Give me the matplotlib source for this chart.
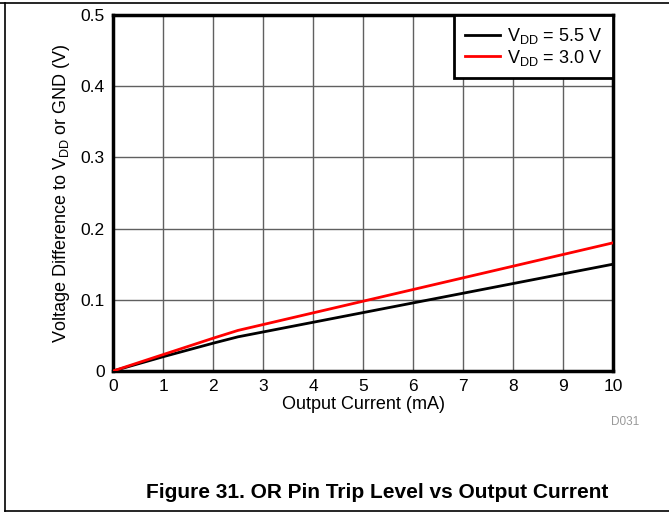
import matplotlib
matplotlib.use("Agg")
import matplotlib.pyplot as plt
from matplotlib.lines import Line2D

plt.rcParams['font.family'] = ['Liberation Sans', 'DejaVu Sans']

current_ma = [0, 1, 2, 2.5, 5, 7.5, 10]
vdd_55 = [0.0, 0.020, 0.039, 0.048, 0.082, 0.116, 0.150]
vdd_30 = [0.0, 0.023, 0.046, 0.057, 0.098, 0.139, 0.180]
x_ticks = [0, 1, 2, 3, 4, 5, 6, 7, 8, 9, 10]
y_ticks = [0, 0.1, 0.2, 0.3, 0.4, 0.5]
y_tick_labels = ['0', '0.1', '0.2', '0.3', '0.4', '0.5']

fig = plt.figure(figsize=(6.69, 5.14), dpi=100)
ax = fig.add_axes([113/669, 1-371/514, 500/669, 356/514])

ax.plot(current_ma, vdd_55, color='black', lw=2, label=r'V$_{\mathregular{DD}}$ = 5.5 V', zorder=3)
ax.plot(current_ma, vdd_30, color='#ff0000', lw=2, label=r'V$_{\mathregular{DD}}$ = 3.0 V', zorder=3)

ax.set_xlim(0, 10)
ax.set_ylim(0, 0.5)
ax.set_xticks(x_ticks)
ax.set_yticks(y_ticks)
ax.set_yticklabels(y_tick_labels)
ax.tick_params(length=0, labelsize=12.5, pad=6)
ax.grid(True, color='#606060', lw=1)
for s in ax.spines.values():
    s.set_linewidth(2.5)
    s.set_color('black')

ax.set_xlabel('Output Current (mA)', fontsize=13, labelpad=1)
ax.set_ylabel(r'Voltage Difference to V$_{\mathregular{DD}}$ or GND (V)', fontsize=13, labelpad=6)

leg = ax.legend(loc='upper right', fontsize=13, frameon=True, fancybox=False,
                edgecolor='black', framealpha=1, borderaxespad=0,
                handlelength=1.9, handletextpad=0.4, labelspacing=0.1,
                borderpad=0.6)
leg.get_frame().set_linewidth(2)

fig.text(625/669, 1-422/514, 'D031', color='#999999', fontsize=8.5, ha='center', va='center')
fig.text(377/669, 1-492/514, 'Figure 31. OR Pin Trip Level vs Output Current',
         fontsize=15, fontweight='bold', ha='center', va='center')

# page frame lines
fig.add_artist(Line2D([0, 1], [1-3/514, 1-3/514], color='black', lw=1.2, transform=fig.transFigure))
fig.add_artist(Line2D([5/669, 5/669], [1-3/514, 1-511/514], color='black', lw=1.2, transform=fig.transFigure))
fig.add_artist(Line2D([5/669, 1], [1-511/514, 1-511/514], color='black', lw=1.2, transform=fig.transFigure))

fig.savefig('out.png', dpi=100)
